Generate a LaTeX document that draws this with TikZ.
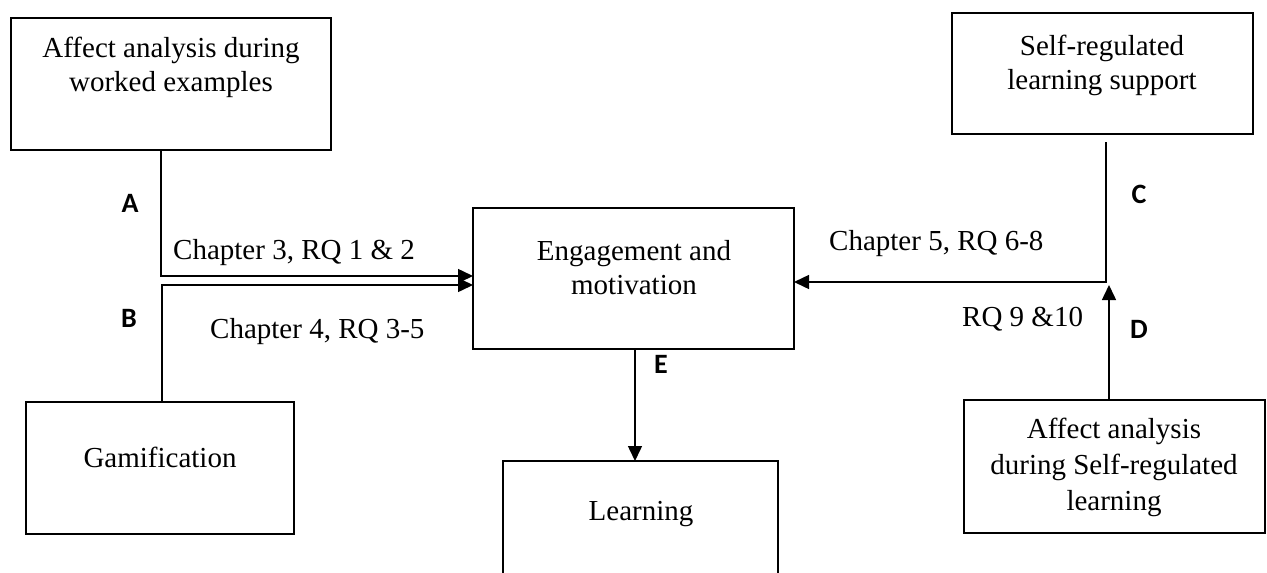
\documentclass[tikz,border=0pt]{standalone}
\usepackage{fontspec}
\setmainfont{Liberation Serif}
\newfontfamily\letterfont{Carlito}
\usetikzlibrary{arrows.meta}

% centred multi-line text whose baseline is the first line
\newcommand\linesc[1]{\begin{tabular}[t]{@{}c@{}}#1\end{tabular}}

\begin{document}
\begin{tikzpicture}[x=1pt,y=-1pt,
  box/.style={draw=black, line width=2.6pt, inner sep=0pt, outer sep=0pt, anchor=north west},
  txt/.style={inner sep=0pt, anchor=base, font=\fontsize{29}{34}\selectfont},
  edgetxt/.style={inner sep=0pt, anchor=base west, font=\fontsize{29}{34}\selectfont},
  letter/.style={inner sep=0pt, anchor=base, font=\letterfont\bfseries\fontsize{28}{33}\selectfont},
  conn/.style={line width=1.5pt},
  arr/.style={conn, -{Triangle[length=15pt,width=14pt]}}]
\useasboundingbox (0,0) rectangle (1267,573);
\clip (0,0) rectangle (1267,573);

% boxes
\node[box, minimum width=320pt, minimum height=132pt] (wex) at (11,18) {};
\node[box, minimum width=268pt, minimum height=132pt] (gam) at (26,402) {};
\node[box, minimum width=321pt, minimum height=141pt] (eng) at (473,208) {};
\node[box, minimum width=275pt, minimum height=150pt] (learn) at (503,461) {};
\node[box, minimum width=301pt, minimum height=121pt] (srl) at (952,13) {};
\node[box, minimum width=301pt, minimum height=133pt] (asrl) at (964,400) {};

% box texts
\node[txt] (wext) at (171,57) {\linesc{Affect analysis during\\worked examples}};
\node[txt] (gamt) at (160,467) {Gamification};
\node[txt] (engt) at (634,260) {\linesc{Engagement and\\motivation}};
\node[txt] (learnt) at (641,520) {Learning};
\node[txt] (srlt) at (1102,55) {\linesc{Self-regulated\\learning support}};
\node[txt, font=\fontsize{29}{36}\selectfont] (asrlt) at (1114,438)
  {\linesc{Affect analysis\\during Self-regulated\\learning}};

% connector corners
\coordinate (ca) at (161,276);
\coordinate (cb) at (162,285);
\coordinate (cc) at (1106,282);
\coordinate (cd) at (1109,285);
\coordinate (ce) at (635,0);

% connectors
\draw[arr] (wex.south -| ca) -- (ca) -- (eng.west |- ca);
\draw[arr] (gam.north -| cb) -- (cb) -- (eng.west |- cb);
\draw[arr] ([yshift=-8pt]srl.south -| cc) -- (cc) -- (eng.east |- cc);
\draw[arr] (asrl.north -| cd) -- (cd);
\draw[arr] (eng.south -| ce) -- (learn.north -| ce);

% connector labels
\node[edgetxt] (ch3) at (173,259) {Chapter 3, RQ 1 \& 2};
\node[edgetxt] (ch4) at (210,338) {Chapter 4, RQ 3-5};
\node[edgetxt] (ch5) at (829,250) {Chapter 5, RQ 6-8};
\node[edgetxt] (rq9) at (962,326) {RQ 9 \&10};

\node[letter] (la) at (130,212) {A};
\node[letter] (lb) at (129,327) {B};
\node[letter] (lc) at (1139,203) {C};
\node[letter] (ld) at (1139,338) {D};
\node[letter] (le) at (661,373) {E};
\end{tikzpicture}
\end{document}
